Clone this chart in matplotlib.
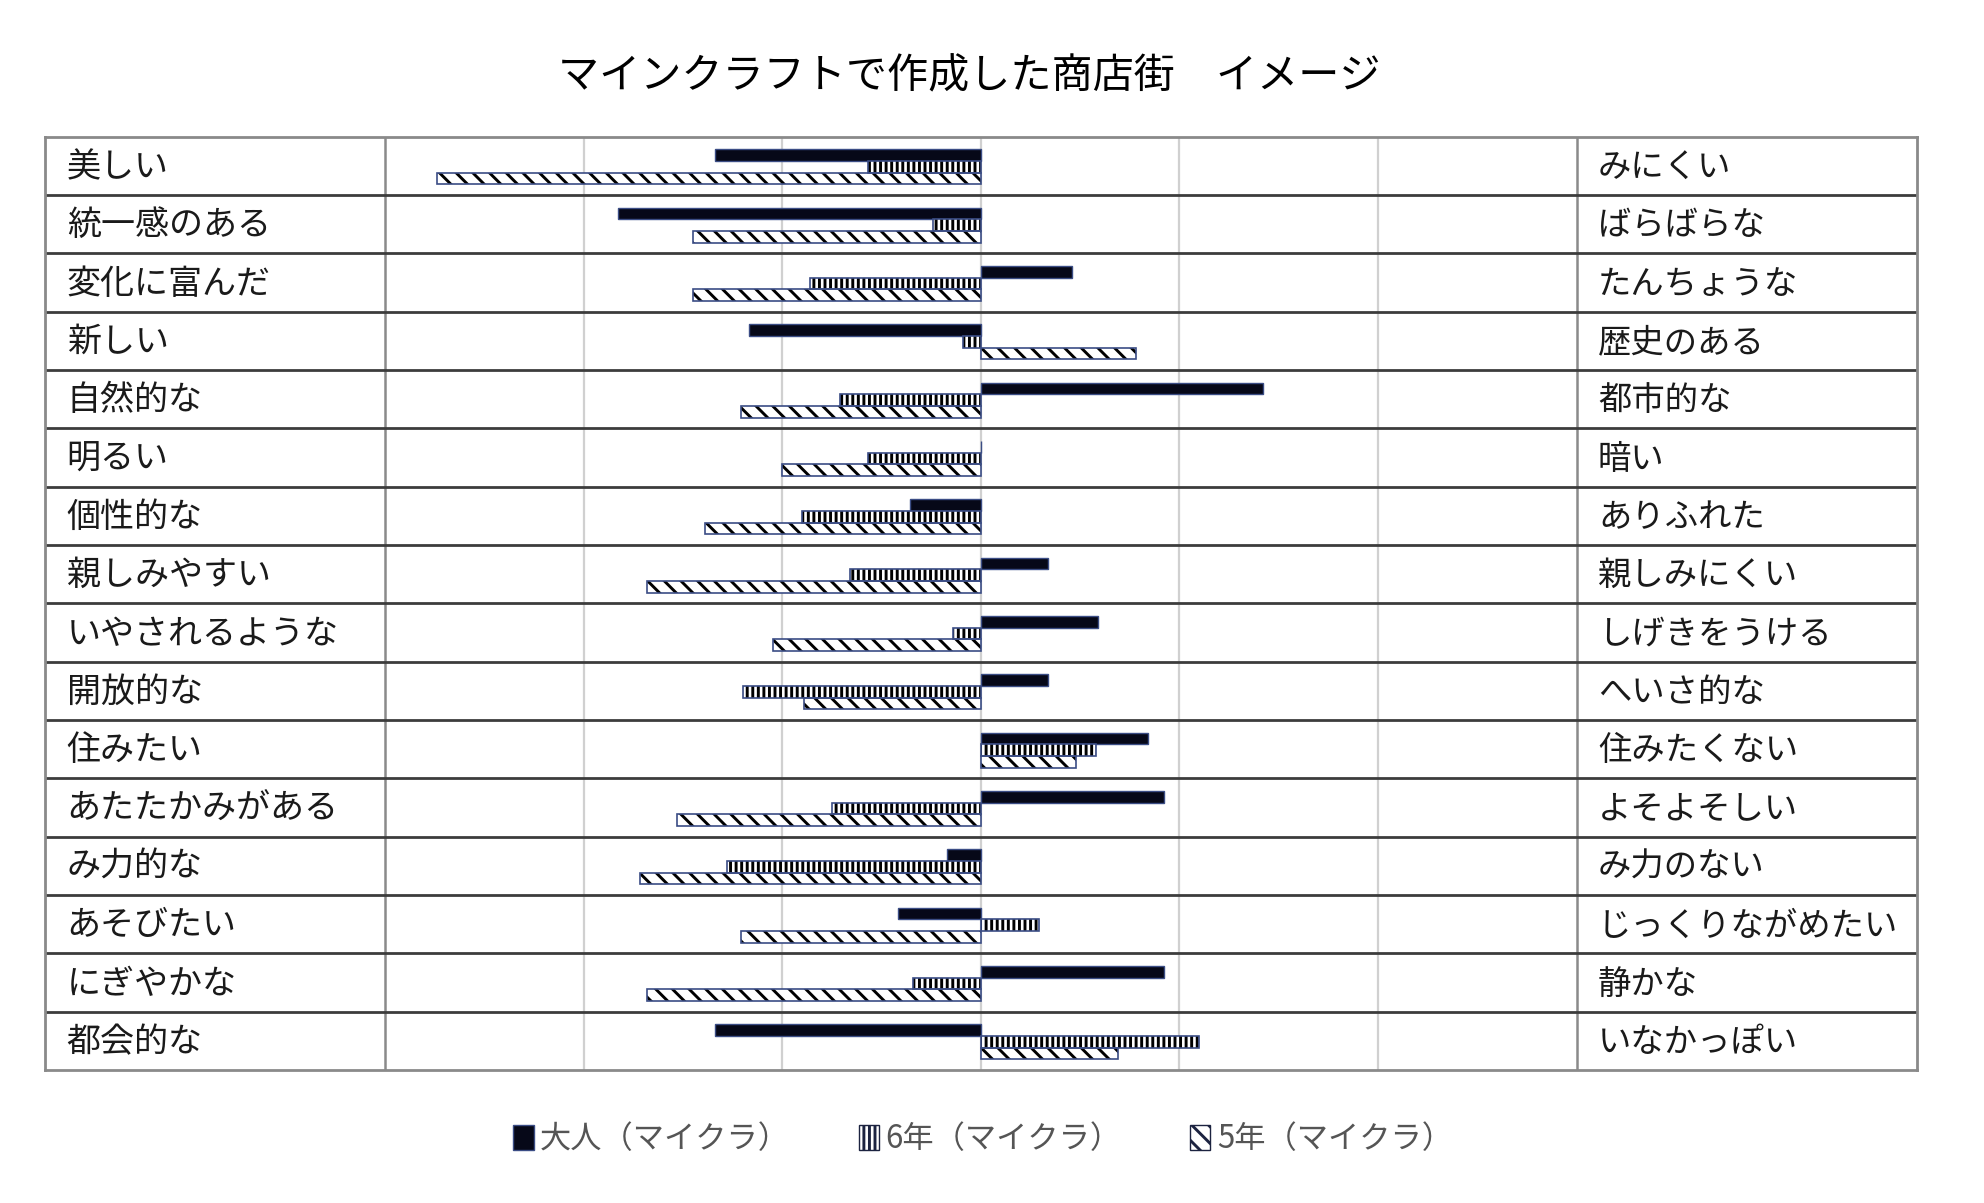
import numpy as np
import matplotlib
matplotlib.use("Agg")
import matplotlib.pyplot as plt
from matplotlib.patches import Patch

plt.rcParams['font.family'] = ['Noto Sans CJK JP', 'DejaVu Sans']
plt.rcParams['hatch.linewidth'] = 2.1

#data
left_labels = ['美しい', '統一感のある', '変化に富んだ', '新しい', '自然的な', '明るい',
               '個性的な', '親しみやすい', 'いやされるような', '開放的な', '住みたい',
               'あたたかみがある', 'み力的な', 'あそびたい', 'にぎやかな', '都会的な']
right_labels = ['みにくい', 'ばらばらな', 'たんちょうな', '歴史のある', '都市的な', '暗い',
                'ありふれた', '親しみにくい', 'しげきをうける', 'へいさ的な', '住みたくない',
                'よそよそしい', 'み力のない', 'じっくりながめたい', '静かな', 'いなかっぽい']
adult = [-1.34, -1.83, 0.46, -1.17, 1.42, 0.0, -0.36, 0.34, 0.59, 0.34, 0.84,
         0.92, -0.17, -0.42, 0.92, -1.34]
grade6 = [-0.57, -0.24, -0.86, -0.09, -0.71, -0.57, -0.90, -0.66, -0.14, -1.20, 0.58,
          -0.75, -1.28, 0.29, -0.34, 1.10]
grade5 = [-2.74, -1.45, -1.45, 0.78, -1.21, -1.00, -1.39, -1.68, -1.05, -0.89, 0.48,
          -1.53, -1.72, -1.21, -1.68, 0.69]
series_names = ['大人（マイクラ）', '6年（マイクラ）', '5年（マイクラ）']
title = 'マインクラフトで作成した商店街　イメージ'

#layout
fig = plt.figure(figsize=(19.84, 12.03), dpi=100)
ax = fig.add_axes([0.0229, 0.1106, 0.9433, 0.7759])
xl, xr = -4.713, 4.715
n = len(left_labels)
y = np.arange(n)
h = 0.2
edge = '#3b4d85'

ax.vlines([-2, -1, 0, 1, 2], 0, n, color='#d0d0d0', lw=1.6, zorder=0)
ax.vlines([-3, 3], 0, n, color='#8a8a8a', lw=1.8, zorder=1)
ax.hlines(np.arange(1, n), xl, xr, color='#3c3c3c', lw=2.0, zorder=1)

# bars: hatch drawn black, outline in navy on top
ax.barh(y + 0.32, adult, height=h, color='#060818', edgecolor=edge, lw=1.0, zorder=3)
ax.barh(y + 0.52, grade6, height=h, color='white', edgecolor='black', hatch='|||', lw=0, zorder=3)
ax.barh(y + 0.52, grade6, height=h, fill=False, edgecolor=edge, lw=1.2, zorder=4)
ax.barh(y + 0.72, grade5, height=h, color='white', edgecolor='black', hatch='\\\\', lw=0, zorder=3)
ax.barh(y + 0.72, grade5, height=h, fill=False, edgecolor=edge, lw=1.2, zorder=4)

for i in range(n):
    ax.text(-4.606, i + 0.53, left_labels[i], fontsize=24.5, va='center', ha='left', color='#1a1a1a')
    ax.text(3.108, i + 0.53, right_labels[i], fontsize=24, va='center', ha='left', color='#1a1a1a')

ax.set_xlim(xl, xr)
ax.set_ylim(n, 0)
ax.set_xticks([])
ax.set_yticks([])
for s in ax.spines.values():
    s.set_color('#8a8a8a')
    s.set_linewidth(2)

fig.text(0.4885, 0.936, title, fontsize=29.6, ha='center', va='center', color='black')

handles = [Patch(facecolor='#060818', edgecolor=edge),
           Patch(facecolor='white', edgecolor='#1c2340', hatch='|||'),
           Patch(facecolor='white', edgecolor='#1c2340', hatch='\\\\')]
fig.legend(handles, series_names, loc='center', bbox_to_anchor=(0.4955, 0.053),
           ncol=3, frameon=False, fontsize=22.5, handlelength=0.65, handleheight=0.85,
           handletextpad=0.2, columnspacing=2.2, labelcolor='#555555')

fig.savefig('out.png', dpi=100)
